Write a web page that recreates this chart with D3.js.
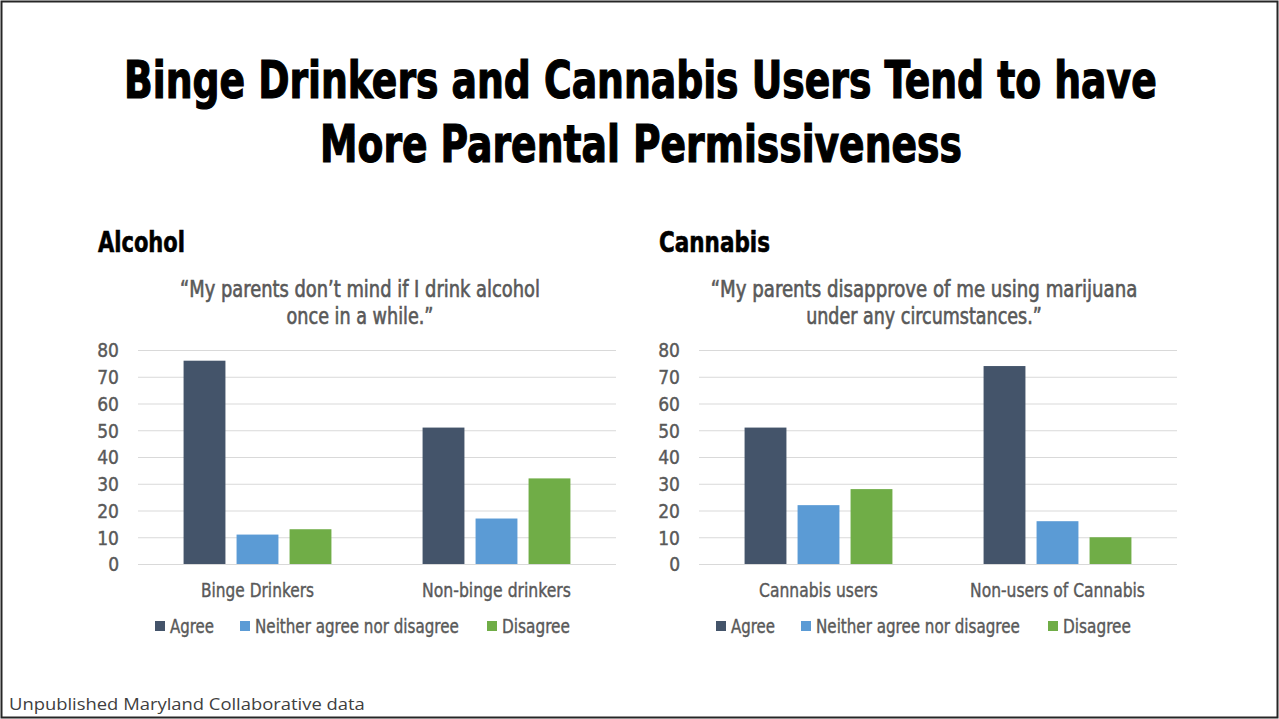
<!DOCTYPE html>
<html>
<head>
<meta charset="utf-8">
<script src="https://cdn.jsdelivr.net/npm/d3@7"></script>
<style>
  body { margin: 0; background: #fff; }
  svg { display: block; }
</style>
</head>
<body>
<div></div>
<script>
// chart data
var series = ["Agree", "Neither agree nor disagree", "Disagree"];
var colors = ["#44546A", "#5B9BD5", "#70AD47"];
var yTicks = [0, 10, 20, 30, 40, 50, 60, 70, 80];

var alcoholGroups = ["Binge Drinkers", "Non-binge drinkers"];
var alcoholAgree = [76, 51];
var alcoholNeither = [11, 17];
var alcoholDisagree = [13, 32];

var cannabisGroups = ["Cannabis users", "Non-users of Cannabis"];
var cannabisAgree = [51, 74];
var cannabisNeither = [22, 16];
var cannabisDisagree = [28, 10];

var W = 1279, H = 719;
var narrow = "'Liberation Sans Narrow', 'DejaVu Sans Condensed', 'Roboto', sans-serif";
var gray = "#595959";

var svg = d3.select("body").select("div").append("svg")
    .attr("width", W)
    .attr("height", H);

svg.append("rect")
    .attr("width", W).attr("height", H)
    .style("fill", "#fff");

// slide border
svg.append("rect")
    .attr("x", 1.5).attr("y", 1.5)
    .attr("width", W - 3).attr("height", H - 3)
    .style("fill", "none")
    .style("stroke", "#262626")
    .style("stroke-width", 2);

// squeeze text horizontally to a measured width
function fit(sel, w) {
    var x = +sel.attr("x"), y = +sel.attr("y");
    var n = sel.node().getComputedTextLength();
    sel.attr("x", 0).attr("y", 0)
        .attr("transform", "translate(" + x + "," + y + ") scale(" + (w / n) + ",1)");
    return sel;
}

// title
fit(svg.append("text")
    .text("Binge Drinkers and Cannabis Users Tend to have")
    .attr("x", 124).attr("y", 98)
    .style("font-family", narrow)
    .style("font-weight", 700)
    .style("font-size", 52)
    .style("fill", "#000")
    .style("stroke", "#000")
    .style("stroke-width", 1.2), 1033);

fit(svg.append("text")
    .text("More Parental Permissiveness")
    .attr("x", 320).attr("y", 162)
    .style("font-family", narrow)
    .style("font-weight", 700)
    .style("font-size", 52)
    .style("fill", "#000")
    .style("stroke", "#000")
    .style("stroke-width", 1.2), 642);

// footer
fit(svg.append("text")
    .text("Unpublished Maryland Collaborative data")
    .attr("x", 9).attr("y", 710)
    .style("font-family", "'Open Sans', sans-serif")
    .style("font-size", 17)
    .style("fill", "#404040"), 356);

function panel(o) {
    var g = svg.append("g").attr("transform", "translate(" + o.dx + ",0)");

    var rows = o.groups.map(function(name, i) {
        return {name: name, values: [o.agree[i], o.neither[i], o.disagree[i]]};
    });

    var x0 = d3.scaleBand().domain(o.groups).range([138, 616]).padding(0);
    var x1 = d3.scaleBand().domain(series).range([0, x0.bandwidth()])
        .paddingInner(0.21).paddingOuter(0.86);
    var y = d3.scaleLinear().domain([0, 80]).range([564, 350]);

    // heading
    fit(g.append("text")
        .text(o.heading)
        .attr("x", 98).attr("y", 252)
        .style("font-family", narrow)
        .style("font-weight", 700)
        .style("font-size", 29)
        .style("fill", "#000")
        .style("stroke", "#000")
        .style("stroke-width", 0.6), o.headingW);

    // question
    o.question.forEach(function(line, i) {
        fit(g.append("text")
            .text(line)
            .attr("x", o.questionX).attr("y", 297 + i * 27)
            .attr("text-anchor", "middle")
            .style("font-family", narrow)
            .style("font-size", 23)
            .style("fill", gray)
            .style("stroke", gray)
            .style("stroke-width", 0.6), o.questionW[i]);
    });

    // gridlines
    g.append("g")
        .selectAll("line")
        .data(yTicks)
        .enter().append("line")
        .attr("x1", 138).attr("x2", 616)
        .attr("y1", function(d) { return y(d) + 0.5; })
        .attr("y2", function(d) { return y(d) + 0.5; })
        .style("stroke", "#d9d9d9")
        .style("stroke-width", 1);

    // y axis
    var yAxis = g.append("g")
        .attr("transform", "translate(138,0)")
        .call(d3.axisLeft(y).tickValues(yTicks).tickSize(0).tickPadding(19));
    yAxis.select(".domain").remove();
    yAxis.selectAll("text")
        .attr("dy", "0.36em")
        .style("font-family", narrow)
        .style("font-size", 19)
        .style("fill", gray)
        .style("stroke", gray)
        .style("stroke-width", 0.4);

    // bars
    g.selectAll(".grp")
        .data(rows)
        .enter().append("g")
        .attr("class", "grp")
        .attr("transform", function(d) { return "translate(" + x0(d.name) + ",0)"; })
        .selectAll("rect")
        .data(function(d) { return d.values.map(function(v, i) { return {s: series[i], v: v, c: colors[i]}; }); })
        .enter().append("rect")
        .attr("x", function(d) { return x1(d.s); })
        .attr("width", x1.bandwidth())
        .attr("y", function(d) { return y(d.v); })
        .attr("height", function(d) { return y(0) - y(d.v); })
        .style("fill", function(d) { return d.c; });

    // category labels
    o.groups.forEach(function(name, i) {
        fit(g.append("text")
            .text(name)
            .attr("x", x0(name) + x0.bandwidth() / 2)
            .attr("y", 597)
            .attr("text-anchor", "middle")
            .style("font-family", narrow)
            .style("font-size", 20)
            .style("fill", gray)
            .style("stroke", gray)
            .style("stroke-width", 0.4), o.catW[i]);
    });

    // legend
    var lx = [155, 240, 487];
    var lw = [44, 204, 68];
    series.forEach(function(s, i) {
        g.append("rect")
            .attr("x", lx[i]).attr("y", 621)
            .attr("width", 10).attr("height", 10)
            .style("fill", colors[i]);
        fit(g.append("text")
            .text(s)
            .attr("x", lx[i] + 15).attr("y", 633)
            .style("font-family", narrow)
            .style("font-size", 20)
            .style("fill", gray)
            .style("stroke", gray)
            .style("stroke-width", 0.4), lw[i]);
    });
}

panel({
    dx: 0,
    heading: "Alcohol", headingW: 87,
    question: ["\u201cMy parents don\u2019t mind if I drink alcohol", "once in a while.\u201d"],
    questionX: 360,
    questionW: [360, 147],
    groups: alcoholGroups, agree: alcoholAgree, neither: alcoholNeither, disagree: alcoholDisagree,
    catW: [113, 149]
});

panel({
    dx: 561,
    heading: "Cannabis", headingW: 111,
    question: ["\u201cMy parents disapprove of me using marijuana", "under any circumstances.\u201d"],
    questionX: 363,
    questionW: [427, 236],
    groups: cannabisGroups, agree: cannabisAgree, neither: cannabisNeither, disagree: cannabisDisagree,
    catW: [119, 175]
});
</script>
</body>
</html>
